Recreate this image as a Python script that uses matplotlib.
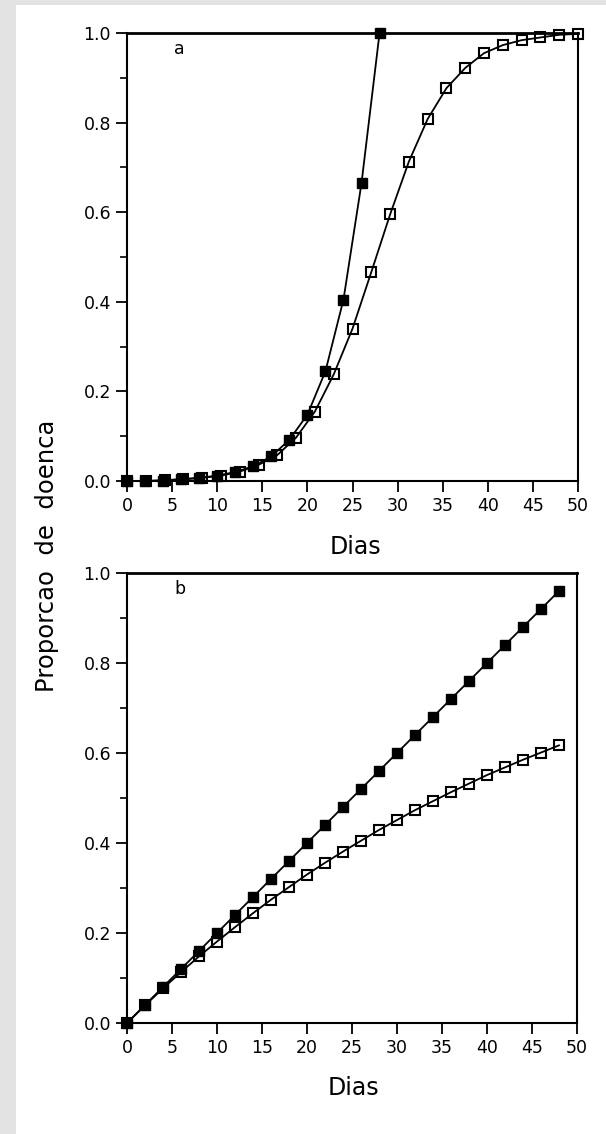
import matplotlib.pyplot as plt
from matplotlib.patches import Rectangle
from matplotlib.ticker import MultipleLocator

# painel a
dias_a_cheio = [0, 2, 4, 6, 8, 10, 12, 14, 16, 18, 20, 22, 24, 26, 28]
prop_a_cheio = [0.0, 0.0, 0.001, 0.004, 0.007, 0.012, 0.02, 0.033, 0.055, 0.092,
                0.148, 0.245, 0.405, 0.665, 1.0]
dias_a_vazio = [0.0, 2.08, 4.17, 6.25, 8.33, 10.42, 12.5, 14.58, 16.67, 18.75,
                20.83, 22.92, 25.0, 27.08, 29.17, 31.25, 33.33, 35.42, 37.5,
                39.58, 41.67, 43.75, 45.83, 47.92, 50.0]
prop_a_vazio = [0.0, 0.0, 0.002, 0.004, 0.007, 0.012, 0.021, 0.036, 0.058, 0.097,
                0.155, 0.238, 0.34, 0.466, 0.595, 0.713, 0.808, 0.877, 0.922,
                0.955, 0.973, 0.984, 0.99, 0.996, 0.998]

# painel b
dias_b = [0, 2, 4, 6, 8, 10, 12, 14, 16, 18, 20, 22, 24, 26, 28, 30, 32, 34,
          36, 38, 40, 42, 44, 46, 48]
prop_b_cheio = [0.0, 0.04, 0.08, 0.12, 0.16, 0.20, 0.24, 0.28, 0.32, 0.36, 0.40,
                0.44, 0.48, 0.52, 0.56, 0.60, 0.64, 0.68, 0.72, 0.76, 0.80, 0.84,
                0.88, 0.92, 0.96]
prop_b_vazio = [0.0, 0.039, 0.077, 0.113, 0.148, 0.181, 0.213, 0.244, 0.274, 0.302,
                0.330, 0.356, 0.381, 0.405, 0.429, 0.451, 0.473, 0.493, 0.513,
                0.532, 0.551, 0.568, 0.585, 0.601, 0.617]

fig = plt.figure(figsize=(6.06, 11.34), dpi=100, facecolor='#e3e3e3')
fundo = Rectangle((16 / 606, 0), 1, 1 - 5 / 1134, transform=fig.transFigure,
                  facecolor='white', edgecolor='none', zorder=-10)
fig.patches.append(fundo)

ax1 = fig.add_axes([127 / 606, 1 - 481 / 1134, 451 / 606, 448 / 1134])
ax2 = fig.add_axes([127 / 606, 1 - 1023 / 1134, 450 / 606, 450 / 1134])


def estilo(ax, letra):
    ax.set_xlim(0, 50)
    ax.set_ylim(0, 1)
    ax.xaxis.set_major_locator(MultipleLocator(5))
    ax.yaxis.set_major_locator(MultipleLocator(0.2))
    ax.yaxis.set_minor_locator(MultipleLocator(0.1))
    ax.yaxis.set_major_formatter(plt.FormatStrFormatter('%.1f'))
    ax.tick_params(direction='out', length=8, width=1.3, labelsize=12.5, color='black')
    ax.tick_params(which='minor', direction='out', length=5, width=1.2)
    for s in ax.spines.values():
        s.set_linewidth(1.5)
    ax.spines['top'].set_linewidth(2)
    ax.text(0.117, 0.965, letra, transform=ax.transAxes, fontsize=12.5,
            ha='center', va='center')
    ax.set_facecolor('none')


for ax, xs_c, ys_c, xs_v, ys_v, letra in [
        (ax1, dias_a_cheio, prop_a_cheio, dias_a_vazio, prop_a_vazio, 'a'),
        (ax2, dias_b, prop_b_cheio, dias_b, prop_b_vazio, 'b')]:
    ax.plot(xs_v, ys_v, '-s', color='black', lw=1.3, markersize=6.8,
            markerfacecolor='none', markeredgewidth=1.5, clip_on=False, zorder=3)
    ax.plot(xs_c, ys_c, '-s', color='black', lw=1.3, markersize=6.8,
            clip_on=False, zorder=4)
    estilo(ax, letra)

fig.text(355 / 606, 1 - 547 / 1134, 'Dias', fontsize=17, ha='center', va='center')
fig.text(353 / 606, 1 - 1088 / 1134, 'Dias', fontsize=17, ha='center', va='center')
fig.text(47 / 606, 1 - 556 / 1134, 'Proporcao  de  doenca', fontsize=17.5,
         rotation=90, ha='center', va='center')

plt.savefig('out.png', dpi=100, facecolor=fig.get_facecolor())
